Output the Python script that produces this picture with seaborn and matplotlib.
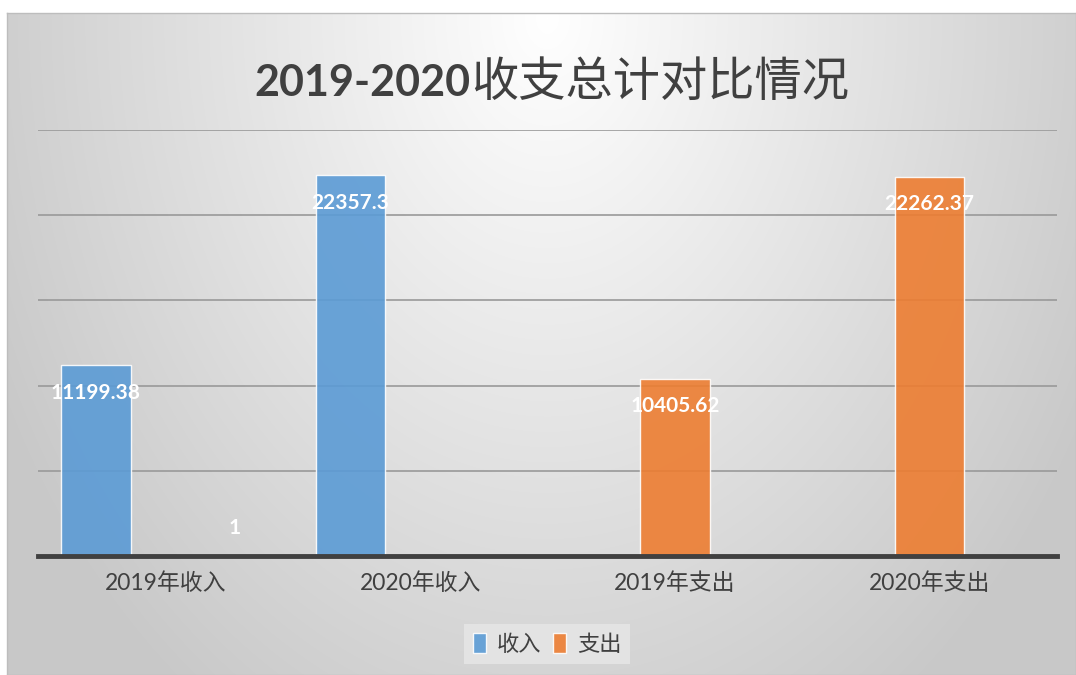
import numpy as np
import pandas as pd
import matplotlib
matplotlib.use('Agg')
import matplotlib.pyplot as plt
from matplotlib.patches import Patch
import seaborn as sns

# 数据
categories = ['2019年收入', '2020年收入', '2019年支出', '2020年支出']
income = [11199.38, 22357.3, np.nan, np.nan]
expense = [np.nan, np.nan, 10405.62, 22262.37]
extra = [1, np.nan, np.nan, np.nan]   # 2019年收入右侧的小值 "1"
series = ['收入', '支出', '其他']
legend_names = ['收入', '支出']
title_num = '2019-2020'
title_cn = '收支总计对比情况'
yticks = [5000, 10000, 15000, 20000, 25000]

df = pd.DataFrame({
    '类别': categories * 3,
    '系列': [s for s in series for _ in categories],
    '金额': income + expense + extra,
})

plt.rcParams['font.family'] = ['Lato', 'Noto Sans CJK SC', 'DejaVu Sans']

W, H = 1076, 675
fig = plt.figure(figsize=(W / 100, H / 100), dpi=100)
fig.patch.set_facecolor('white')

# 背景渐变 (中上部为白色, 四周为灰色)
bg = fig.add_axes([7 / W, 0, 1 - 7 / W, 1 - 13 / H])
bw, bh = W - 7, H - 13
xx, yy = np.meshgrid(np.arange(bw), np.arange(bh))
t = np.sqrt(((xx - 540) / 620) ** 2 + ((yy - 5) / 842) ** 2)
gray = (255 - 55 * np.clip(t, 0, 1)) / 255
bg.imshow(np.dstack([gray] * 3), aspect='auto', interpolation='bilinear')
bg.set_xticks([])
bg.set_yticks([])
for s in bg.spines.values():
    s.set_color('#bdbdbd')
    s.set_linewidth(1)

ax = fig.add_axes([38 / W, 119 / H, 1019 / W, 426 / H])
ax.patch.set_alpha(0)

palette = {'收入': '#5B9BD5', '支出': '#ED7D31', '其他': '#ED7D31'}
sns.barplot(data=df, x='类别', y='金额', hue='系列', order=categories,
            hue_order=series, palette=palette, saturation=1, width=0.82,
            errorbar=None, alpha=0.9, edgecolor=(1, 1, 1, 0.6), linewidth=1,
            legend=False, ax=ax)

# 数据标签 (很小的值标在柱子上方)
for cont in ax.containers:
    for bar in cont:
        h = bar.get_height()
        if np.isnan(h):
            continue
        txt = f'{h:.2f}'.rstrip('0').rstrip('.')
        dy = -20 if h > 1000 else 20
        ax.annotate(txt, (bar.get_x() + bar.get_width() / 2, h),
                    xytext=(0, dy), textcoords='offset points',
                    ha='center', va='center', color='white',
                    fontsize=15, fontweight='bold', zorder=6)

ax.set_ylim(0, 25000)
ax.set_yticks(yticks)
ax.grid(axis='y', color='#999999', linewidth=1.2)
ax.grid(axis='x', visible=False)
ax.set_axisbelow(True)
ax.tick_params(axis='y', left=False, labelleft=False)
ax.tick_params(axis='x', length=0, pad=12, labelsize=16.5, labelcolor='#404040')
ax.set_xlabel('')
ax.set_ylabel('')
for s in ax.spines.values():
    s.set_visible(False)
ax.axhline(0, color='#404040', linewidth=3.5, zorder=5, clip_on=False)

# 图例
handles = [Patch(facecolor=palette[n], edgecolor='white', alpha=0.9) for n in legend_names]
leg = fig.legend(handles, legend_names, loc='center',
                 bbox_to_anchor=(547 / W, 1 - 644 / H), ncol=2,
                 frameon=True, facecolor='#e3e3e3', edgecolor='none',
                 fancybox=False, fontsize=16, handlelength=0.6,
                 handleheight=1.0, handletextpad=0.5, columnspacing=0.5,
                 borderpad=0.4, labelcolor='#404040')
leg.get_frame().set_alpha(1)

# 标题
fig.text(471 / W, 1 - 96 / H, title_num, ha='right', va='baseline',
         fontsize=31, fontweight='bold', color='#404040', family='Lato')
fig.text(471 / W, 1 - 96 / H, title_cn, ha='left', va='baseline',
         fontsize=34, color='#404040', family='Noto Sans CJK SC')

fig.savefig('out.png', dpi=100)
